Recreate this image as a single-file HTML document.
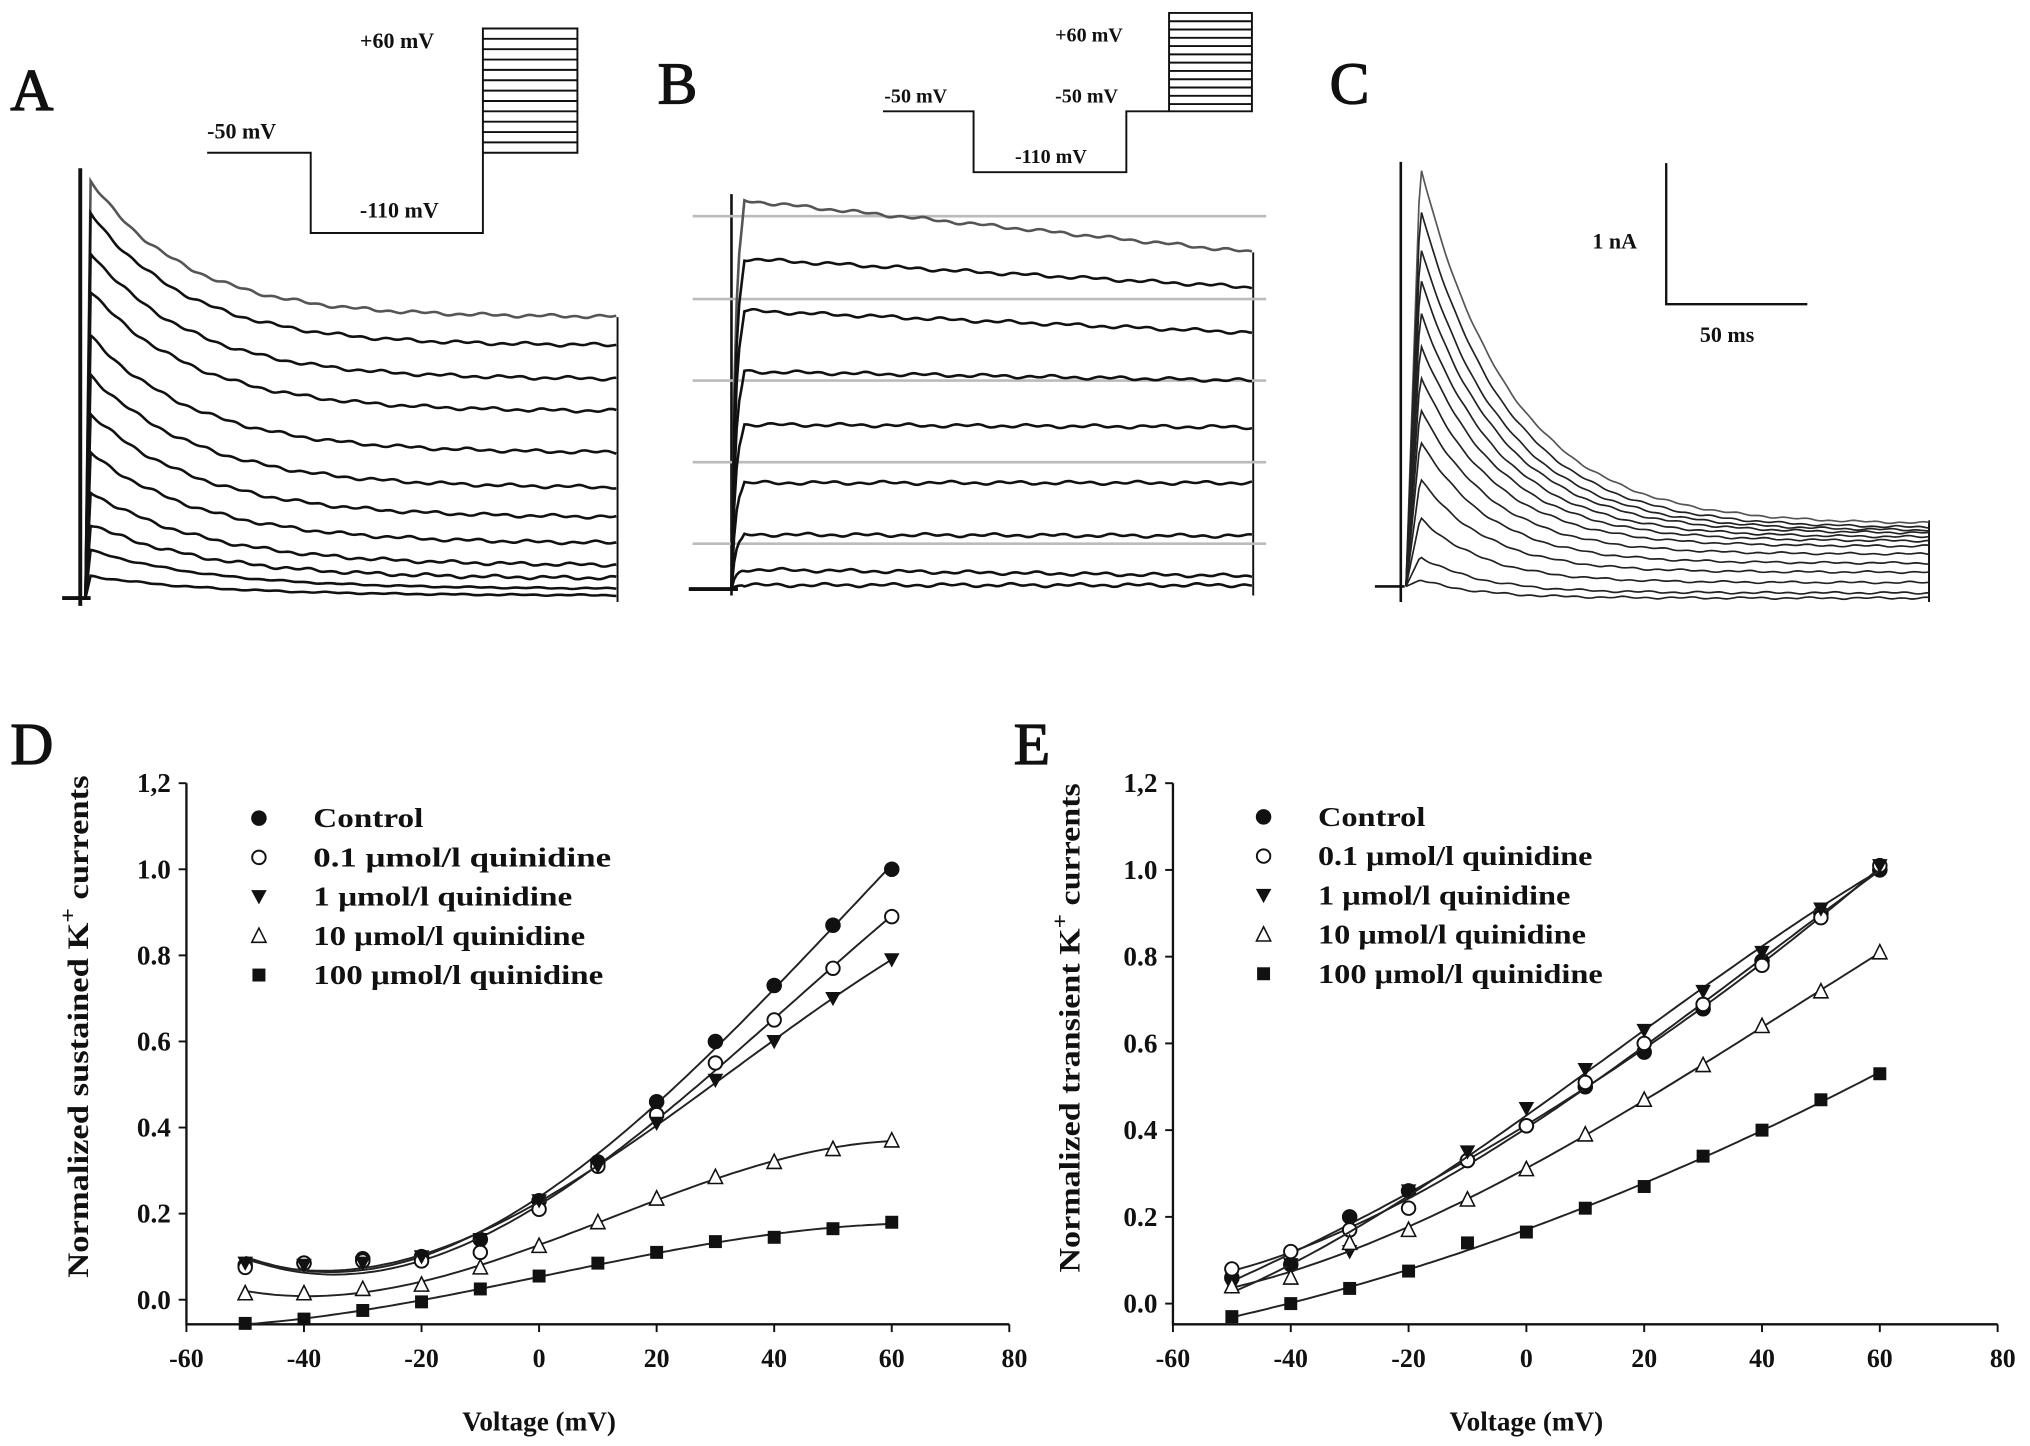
<!DOCTYPE html>
<html><head><meta charset="utf-8"><style>
html,body{margin:0;padding:0;background:#fff}
svg{display:block}
text{font-family:"Liberation Serif",serif;font-weight:bold;fill:#111}
</style></head><body>
<svg id="fig" width="2030" height="1446" viewBox="0 0 1568 1117" preserveAspectRatio="none" xmlns="http://www.w3.org/2000/svg">
<g id="top" fill="none" stroke="#111">
 <text x="8" y="85" font-size="46" style="font-weight:normal">A</text>
 <text x="508" y="80" font-size="46" style="font-weight:normal">B</text>
 <text x="1027" y="80" font-size="46" style="font-weight:normal">C</text>
 <text x="783" y="590" font-size="46" style="font-weight:normal">E</text>
 <text x="8" y="590" font-size="46" style="font-weight:normal">D</text>
 <g stroke-width="1.5">
  <polyline points="160,118 240,118 240,180 373,180 373,22 446,22 446,118 373,118"/>
  <g id="protoA"></g>
 </g>
 <text x="278" y="37" font-size="17" stroke="none">+60 mV</text>
 <text x="160" y="107" font-size="17" stroke="none">-50 mV</text>
 <text x="278" y="168" font-size="17" stroke="none">-110 mV</text>
 <g stroke-width="1.5">
  <polyline points="682,86 752,86 752,133 870,133 870,86 903,86 903,10 967,10 967,86 903,86"/>
  <g id="protoB"></g>
 </g>
 <text x="815" y="32" font-size="15.5" stroke="none">+60 mV</text>
 <text x="683" y="79" font-size="15.5" stroke="none">-50 mV</text>
 <text x="815" y="79" font-size="15.5" stroke="none">-50 mV</text>
 <text x="784" y="126" font-size="15.5" stroke="none">-110 mV</text>
 <line x1="62" y1="130" x2="62" y2="468" stroke-width="3"/>
 <line x1="48" y1="462" x2="70" y2="462" stroke-width="3"/>
 <line x1="477" y1="245" x2="477" y2="465" stroke-width="1.5"/>
 <line x1="565" y1="150" x2="565" y2="460" stroke-width="2"/>
 <line x1="532" y1="455" x2="570" y2="455" stroke-width="3"/>
 <line x1="968" y1="195" x2="968" y2="460" stroke-width="1.5"/>
 <line x1="1082" y1="125" x2="1082" y2="465" stroke-width="2"/>
 <line x1="1062" y1="453" x2="1085" y2="453" stroke-width="2"/>
 <line x1="1490" y1="402" x2="1490" y2="465" stroke-width="1.5"/>
 <g id="gridB" stroke="#bbb" stroke-width="2"></g>
 <g id="tracesA" stroke-width="2"></g>
 <g id="tracesB" stroke-width="2"></g>
 <g id="tracesC" stroke-width="1.3"></g>
 <g stroke-width="1.8">
  <polyline points="1287,126 1287,235 1396,235"/>
 </g>
 <text x="1230" y="192" font-size="17" stroke="none">1 nA</text>
 <text x="1313" y="264" font-size="17" stroke="none">50 ms</text>
</g>
<g id="plotD"></g>
<g id="plotE"></g>
</svg>
<script>
const NS="http://www.w3.org/2000/svg";
const aPeaks=[140,165,195,225,260,290,320,350,380,405,425,445];
const aEnds=[245,267,293,318,350,377,400,420,437,447,455,460];
const bStarts=[155,200,240,287,328,373,413,440,452];
const bEnds=[195,222,257,294,330,373,414,445,452];
const bGrid=[167,231,294,357,420];
const cPeaks=[128,160,190,215,240,265,290,315,340,370,400,430,448];
const cEnds=[405,408,410,412,415,418,422,428,435,442,450,458,462];
const voltages=[-50,-40,-30,-20,-10,0,10,20,30,40,50,60];
const seriesNames=["Control","0.1 μmol/l quinidine","1 μmol/l quinidine","10 μmol/l quinidine","100 μmol/l quinidine"];
const dControl=[0.08,0.085,0.095,0.10,0.14,0.23,0.32,0.46,0.60,0.73,0.87,1.00];
const dQ01=[0.075,0.085,0.09,0.09,0.11,0.21,0.31,0.43,0.55,0.65,0.77,0.89];
const dQ1=[0.085,0.08,0.085,0.10,0.14,0.23,0.31,0.41,0.51,0.60,0.70,0.79];
const dQ10=[0.015,0.015,0.025,0.035,0.075,0.125,0.18,0.235,0.285,0.32,0.35,0.37];
const dQ100=[-0.055,-0.045,-0.025,-0.005,0.025,0.055,0.085,0.11,0.135,0.145,0.165,0.18];
const eControl=[0.06,0.09,0.20,0.26,0.33,0.41,0.50,0.58,0.68,0.79,0.90,1.00];
const eQ01=[0.08,0.12,0.17,0.22,0.33,0.41,0.51,0.60,0.69,0.78,0.89,1.01];
const eQ1=[0.04,0.09,0.12,0.26,0.35,0.45,0.54,0.63,0.72,0.81,0.91,1.01];
const eQ10=[0.04,0.06,0.14,0.17,0.24,0.31,0.39,0.47,0.55,0.64,0.72,0.81];
const eQ100=[-0.03,0.0,0.035,0.075,0.14,0.165,0.22,0.27,0.34,0.40,0.47,0.53];
const xTicks=[-60,-40,-20,0,20,40,60,80];
const yTicks=["0.0","0.2","0.4","0.6","0.8","1.0","1,2"];

function mk(tag,attrs,parent){const e=document.createElementNS(NS,tag);for(const k in attrs)e.setAttribute(k,attrs[k]);parent.appendChild(e);return e;}
function wob(x,i){return Math.sin(x*0.35+i)*0.8+Math.sin(x*0.13+i*2)*0.7;}

const pA=document.getElementById('protoA');
for(let k=1;k<12;k++){const l=mk('line',{x1:373,x2:446,y1:22+k*8,y2:22+k*8},pA);}
const pB=document.getElementById('protoB');
for(let k=1;k<12;k++){const l=mk('line',{x1:903,x2:967,y1:10+k*6.4,y2:10+k*6.4},pB);}

const gA=document.getElementById('tracesA');
aPeaks.forEach((p,i)=>{let d="";for(let x=66;x<=477;x+=2){let y;if(x<70)y=462-(462-p)*(x-66)/4;else y=aEnds[i]+(p-aEnds[i])*Math.exp(-(x-70)/(75+i*2))+wob(x,i)*(i<10?1:0.4);d+=(d?"L":"M")+x+","+y.toFixed(1);}
 const e=mk('path',{d:d,stroke:i==0?'#555':'#111'},gA);});
const gG=document.getElementById('gridB');
bGrid.forEach(y=>{const l=mk('line',{x1:535,x2:978,y1:y,y2:y},gG);});
const gB=document.getElementById('tracesB');
bStarts.forEach((s,i)=>{let d="";for(let x=565;x<=968;x+=2){let y;const base=s+(bEnds[i]-s)*(x-575)/393;if(x<575)y=455-(455-s)*(1-Math.exp(-(x-565)/3));else y=base+wob(x,i);d+=(d?"L":"M")+x+","+y.toFixed(1);}
 const e=mk('path',{d:d,stroke:i==0?'#555':'#111'},gB);});
const gC=document.getElementById('tracesC');
cPeaks.forEach((p,i)=>{let d="";for(let x=1086;x<=1490;x+=2){let y;if(x<1097)y=453-(453-p)*(x-1086)/11;else y=cEnds[i]+(p-cEnds[i])*Math.exp(-(x-1097)/(70-i*2))+wob(x,i)*0.6;d+=(d?"L":"M")+x+","+y.toFixed(1);}
 const e=mk('path',{d:d,stroke:i==0?'#555':'#222'},gC);});

function fitCubic(xs,ys){const n=4,A=[...Array(n)].map(()=>Array(n+1).fill(0));
 xs.forEach((x0,k)=>{const x=x0/50;const p=[1,x,x*x,x*x*x];for(let i=0;i<n;i++){for(let j=0;j<n;j++)A[i][j]+=p[i]*p[j];A[i][n]+=p[i]*ys[k];}});
 for(let i=0;i<n;i++){let m=i;for(let r=i+1;r<n;r++)if(Math.abs(A[r][i])>Math.abs(A[m][i]))m=r;[A[i],A[m]]=[A[m],A[i]];
  for(let r=0;r<n;r++)if(r!=i){const f=A[r][i]/A[i][i];for(let c=i;c<=n;c++)A[r][c]-=f*A[i][c];}}
 const c=A.map((r,i)=>r[n]/r[i]);return v=>{const x=v/50;return c[0]+c[1]*x+c[2]*x*x+c[3]*x*x*x;};}

function marker(g,kind,x,y){let e;
 if(kind==0)e=mk('circle',{cx:x,cy:y,r:5.5,fill:'#111',stroke:'#111'},g);
 else if(kind==1)e=mk('circle',{cx:x,cy:y,r:5.2,fill:'#fff',stroke:'#111','stroke-width':1.5},g);
 else if(kind==2)e=mk('polygon',{points:`${x-6},${y-5} ${x+6},${y-5} ${x},${y+6}`,fill:'#111'},g);
 else if(kind==3)e=mk('polygon',{points:`${x-5.5},${y+5} ${x+5.5},${y+5} ${x},${y-6}`,fill:'#fff',stroke:'#111','stroke-width':1.2},g);
 else e=mk('rect',{x:x-5,y:y-5,width:10,height:10,fill:'#111'},g);
 }

function chart(gid,series,o){
 const g=document.getElementById(gid);
 const X=v=>o.x0+(v+60)*o.xs, Y=v=>o.y0-v*o.ys;
 const ax=mk('path',{d:`M${X(-60)},${Y(1.2)}L${X(-60)},${o.yb}L${X(80)},${o.yb}`,fill:'none',stroke:'#111','stroke-width':1.8},g);
 
 xTicks.forEach(t=>{mk('line',{x1:X(t),x2:X(t),y1:o.yb,y2:o.yb+6,stroke:'#111','stroke-width':1.5},g);
  const tx=mk('text',{x:X(t)+(t==80?4:0),y:o.yb+33,'font-size':20,'text-anchor':'middle'},g);tx.textContent=t;
  });
 yTicks.forEach(t=>{const v=parseFloat(t.replace(',','.'));mk('line',{x1:X(-60)-6,x2:X(-60),y1:Y(v),y2:Y(v),stroke:'#111','stroke-width':1.5},g);
  const tx=mk('text',{x:X(-60)-12,y:Y(v)+7,'font-size':21,'text-anchor':'end'},g);tx.textContent=t;
  });
 const xt=mk('text',{x:X(0),y:o.yb+82,'font-size':21,'text-anchor':'middle'},g);xt.textContent="Voltage (mV)";
 
 const yt=mk('text',{x:0,y:0,'font-size':23,'text-anchor':'middle',textLength:o.ytl,lengthAdjust:'spacingAndGlyphs',transform:`translate(${o.ytx},${o.ytc}) rotate(-90)`},g);
 yt.innerHTML=o.ytitle+' K<tspan dy="-10" font-size="17">+</tspan><tspan dy="10"> currents</tspan>';
 
 series.forEach((s,k)=>{const f=fitCubic(voltages,s);let d="";
  for(let v=-50;v<=60;v+=1)d+=(d?"L":"M")+X(v).toFixed(1)+","+Y(f(v)).toFixed(1);
  const p=mk('path',{d:d,fill:'none',stroke:'#222','stroke-width':1.5},g);
  
  voltages.forEach((v,i)=>marker(g,k,X(v),Y(s[i])));
  const ly=o.ly+k*30.3;marker(g,k,o.lx,ly);
  const lt=mk('text',{x:o.lx+42,y:ly+7,'font-size':21,textLength:o.lw[k],lengthAdjust:'spacingAndGlyphs'},g);lt.textContent=seriesNames[k];
  });
}
chart('plotD',[dControl,dQ01,dQ1,dQ10,dQ100],{x0:144,xs:4.54,y0:1004,ys:332.5,yb:1023,ytx:68,ytc:793,ytl:388,ytitle:"Normalized sustained",lx:200,ly:632,lw:[85,230,200,210,224]});
chart('plotE',[eControl,eQ01,eQ1,eQ10,eQ100],{x0:906,xs:4.55,y0:1007,ys:335,yb:1023,ytx:834,ytc:794,ytl:378,ytitle:"Normalized transient",lx:976,ly:631,lw:[83,212,195,207,220]});
</script>
</body></html>
